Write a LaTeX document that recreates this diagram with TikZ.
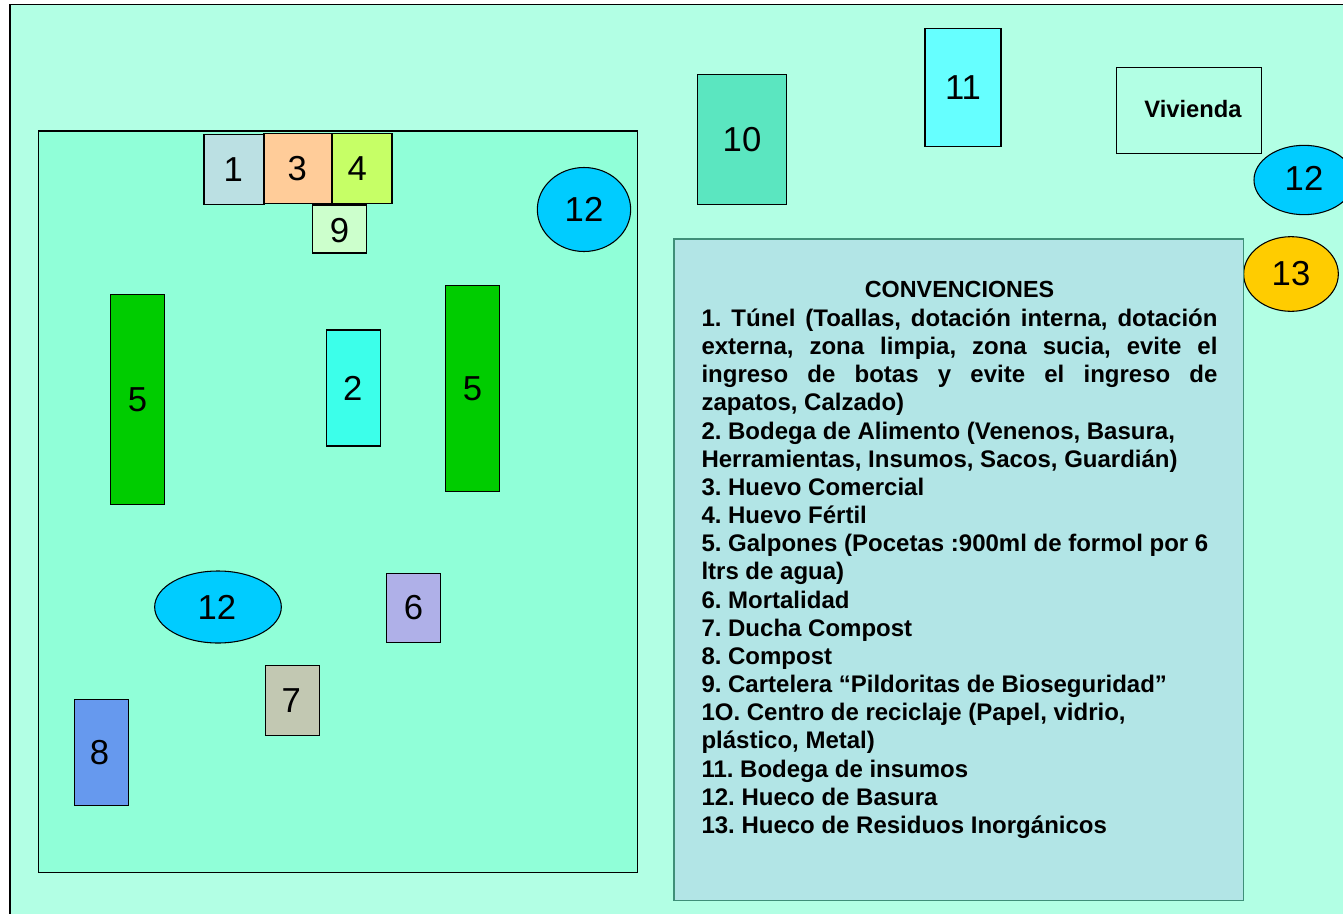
\documentclass[tikz,border=0pt]{standalone}
\usepackage{fontspec}
\setmainfont{Liberation Sans}
\usetikzlibrary{positioning, shapes.geometric}
\definecolor{farmbg}{HTML}{B2FFE4}
\definecolor{fieldbg}{HTML}{90FFD8}
\definecolor{legendbg}{HTML}{B2E5E6}
\definecolor{legendline}{HTML}{3F8F78}
\definecolor{holeblue}{HTML}{00CCFF}
\definecolor{holegold}{HTML}{FFCC00}
\definecolor{barn}{HTML}{00CC00}

\begin{document}
\begin{tikzpicture}[
    x=0.75pt, y=-0.75pt,
    every node/.style={font=\fontsize{26}{30}\selectfont, inner sep=0pt, outer sep=0pt},
    lot/.style={
        rectangle,
        draw=black,
        line width=0.8pt
    },
    hole/.style={
        ellipse,
        draw=black,
        line width=0.8pt
    },
    legendtext/.style={
        font=\fontsize{18}{21.12}\selectfont\bfseries\frenchspacing,
        text width=387pt,
        align=justify
    }
]

\useasboundingbox (0,0) rectangle (1343,914);

% terrain
\node[lot, fill=farmbg, minimum width=1020pt, minimum height=700pt, anchor=north west] (farm) at (10,4.5) {};
\node[lot, fill=fieldbg, minimum width=449pt, minimum height=556pt, anchor=north west] (field) at (38.5,131) {};

% lots inside the field
\node[lot, fill={rgb,255:red,187;green,224;blue,227}, minimum width=45pt, minimum height=52pt] (tunnel) at (234,169.5) {\hspace*{-1pt}1};
\node[lot, fill={rgb,255:red,255;green,204;blue,153}, minimum width=51pt, minimum height=53pt] (eggs) at (298,168.5) {\hspace*{-1pt}3};
\node[lot, fill={rgb,255:red,198;green,255;blue,102}, minimum width=45pt, minimum height=53pt] (fertile) at (362,168.5) {\hspace*{-7pt}4};
\node[lot, fill={rgb,255:red,204;green,255;blue,204}, minimum width=40pt, minimum height=36pt] (board) at (339.5,229) {\raisebox{-1.5pt}[\height][\depth]{9}};
\node[lot, fill=barn, minimum width=40pt, minimum height=157pt] (barnleft) at (137.5,399.5) {5};
\node[lot, fill={rgb,255:red,60;green,255;blue,234}, minimum width=41pt, minimum height=87pt] (store) at (353.5,388) {\hspace*{-1pt}2};
\node[lot, fill=barn, minimum width=40pt, minimum height=155pt] (barnright) at (472.5,388.5) {5};
\node[lot, fill={rgb,255:red,175;green,176;blue,232}, minimum width=41pt, minimum height=52pt] (mortality) at (413.5,608) {6};
\node[lot, fill={rgb,255:red,194;green,200;blue,178}, minimum width=40pt, minimum height=52pt] (shower) at (292.5,700.5) {\hspace*{-2pt}7};
\node[lot, fill={rgb,255:red,102;green,153;blue,238}, minimum width=40pt, minimum height=79pt] (compost) at (101.5,752.5) {\hspace*{-3pt}8};

% lots outside the field
\node[lot, fill={rgb,255:red,91;green,230;blue,192}, minimum width=67pt, minimum height=97pt] (recycling) at (742,139.5) {10};
\node[lot, fill={rgb,255:red,102;green,255;blue,255}, minimum width=57pt, minimum height=88pt] (supplies) at (963,87.5) {11};
\node[lot, minimum width=109pt, minimum height=64pt, font=\fontsize{17.8}{20}\selectfont\bfseries] (house) at (1189,110.5) {\raisebox{0.8pt}[\height][\depth]{\hspace*{6pt}Vivienda}};

% holes
\node[hole, fill=holeblue, minimum width=70pt, minimum height=63pt] (holeone) at (584,209.5) {12};
\node[hole, fill=holeblue, minimum width=95pt, minimum height=54pt] (holetwo) at (218,607) {\hspace*{-1.5pt}12};
\node[hole, fill=holeblue, minimum width=75pt, minimum height=52pt] (holethree) at (1304,180) {\raisebox{1.2pt}[\height][\depth]{12}};
\node[hole, fill=holegold, minimum width=71pt, minimum height=56pt] (waste) at (1291,274) {13};

% legend
\node[lot, draw=legendline, fill=legendbg, minimum width=427pt, minimum height=496pt, anchor=north west] (legend) at (674,239) {};
\node[font=\fontsize{17.5}{20}\selectfont\bfseries] (legendtitle) at (959.5,289) {CONVENCIONES};
\node[legendtext, below=8.7pt of legendtitle.south, anchor=north] (legendbody) {%
1. Túnel (Toallas, dotación interna, dotación\linebreak
externa, zona limpia, zona sucia, evite el\linebreak
ingreso de botas y evite el ingreso de\linebreak
zapatos, Calzado)\\
2. Bodega de Alimento (Venenos, Basura,\\
Herramientas, Insumos, Sacos, Guardián)\\
3. Huevo Comercial\\
4. Huevo Fértil\\
5. Galpones (Pocetas :900ml de formol por 6\\
ltrs de agua)\\
6. Mortalidad\\
7. Ducha Compost\\
8. Compost\\
9. Cartelera “Pildoritas de Bioseguridad”\\
1O. Centro de reciclaje (Papel, vidrio,\\
plástico, Metal)\\
11. Bodega de insumos\\
12. Hueco de Basura\\
13. Hueco de Residuos Inorgánicos};

\end{tikzpicture}
\end{document}
